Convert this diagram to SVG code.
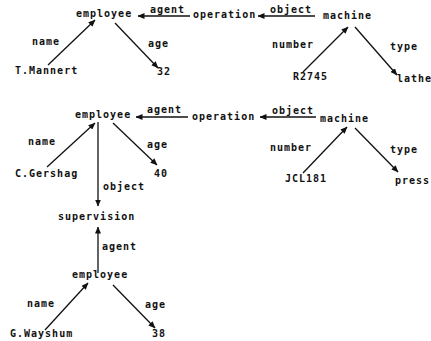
<svg xmlns="http://www.w3.org/2000/svg" width="431" height="341" viewBox="0 0 431 341">
<defs>
<marker id="ah" markerWidth="7" markerHeight="6" refX="6.5" refY="3" orient="auto" markerUnits="userSpaceOnUse">
<path d="M0,0 L7,3 L0,6 Z" fill="#111"/>
</marker>
<style>
text{font-family:"DejaVu Sans Mono","Liberation Mono",monospace;font-size:10px;font-weight:bold;fill:#111;letter-spacing:1px}
.c line{stroke:#111;stroke-width:1.3;marker-end:url(#ah)}
</style>
</defs>
<rect width="431" height="341" fill="#fff"/>
<g class="c" id="connectors">
<line x1="48" y1="65" x2="95" y2="20"/>
<line x1="115" y1="23" x2="158" y2="68"/>
<line x1="190" y1="16" x2="138" y2="16"/>
<line x1="315" y1="16" x2="258" y2="16"/>
<line x1="303" y1="72" x2="348" y2="27"/>
<line x1="355" y1="27" x2="397" y2="75"/>
<line x1="47" y1="167" x2="95" y2="123"/>
<line x1="113" y1="123" x2="157" y2="165"/>
<line x1="188" y1="117" x2="136" y2="117"/>
<line x1="316" y1="117" x2="260" y2="117"/>
<line x1="303" y1="173" x2="347" y2="127"/>
<line x1="355" y1="128" x2="398" y2="172"/>
<line x1="98" y1="122" x2="98" y2="206"/>
<line x1="98" y1="273" x2="98" y2="227"/>
<line x1="45" y1="330" x2="88" y2="283"/>
<line x1="113" y1="285" x2="155" y2="328"/>
</g>
<g id="edge-labels">
<text x="150" y="13">agent</text>
<text x="270" y="13">object</text>
<text x="32" y="45">name</text>
<text x="148" y="47">age</text>
<text x="272" y="48">number</text>
<text x="390" y="50">type</text>
<text x="147" y="113">agent</text>
<text x="272" y="114">object</text>
<text x="28" y="145">name</text>
<text x="147" y="148">age</text>
<text x="270" y="151">number</text>
<text x="390" y="153">type</text>
<text x="103" y="190">object</text>
<text x="102" y="250">agent</text>
<text x="27" y="307">name</text>
<text x="145" y="308">age</text>
</g>
<g id="n-employee1"><text x="76" y="17">employee</text></g>
<g id="n-operation1"><text x="193" y="18">operation</text></g>
<g id="n-machine1"><text x="323" y="19">machine</text></g>
<g id="n-tmannert"><text x="15" y="74">T.Mannert</text></g>
<g id="n-32"><text x="157" y="75">32</text></g>
<g id="n-r2745"><text x="293" y="80">R2745</text></g>
<g id="n-lathe"><text x="397" y="82">lathe</text></g>
<g id="n-employee2"><text x="75" y="118">employee</text></g>
<g id="n-operation2"><text x="192" y="120">operation</text></g>
<g id="n-machine2"><text x="320" y="122">machine</text></g>
<g id="n-cgershag"><text x="15" y="177">C.Gershag</text></g>
<g id="n-40"><text x="154" y="177">40</text></g>
<g id="n-jcl181"><text x="285" y="182">JCL181</text></g>
<g id="n-press"><text x="395" y="184">press</text></g>
<g id="n-supervision"><text x="58" y="220">supervision</text></g>
<g id="n-employee3"><text x="72" y="278">employee</text></g>
<g id="n-gwayshum"><text x="10" y="337">G.Wayshum</text></g>
<g id="n-38"><text x="152" y="337">38</text></g>
</svg>
